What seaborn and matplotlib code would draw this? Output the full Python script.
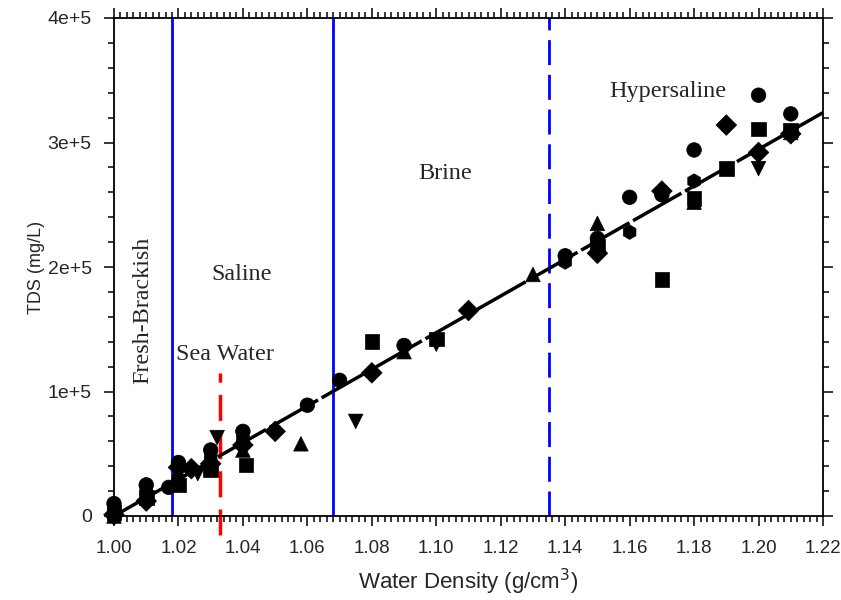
import numpy as np
import pandas as pd
import matplotlib
matplotlib.use("Agg")
import matplotlib.pyplot as plt
from matplotlib.ticker import MultipleLocator, FixedLocator, FixedFormatter
import seaborn as sns

# ---- data ----
circle_x = [1.000, 1.010, 1.017, 1.020, 1.030, 1.040, 1.060, 1.070, 1.090, 1.140,
            1.150, 1.160, 1.170, 1.180, 1.200, 1.210]
circle_y = [10000, 25000, 23000, 43000, 53000, 68000, 89000, 109000, 137000, 209000,
            223000, 256000, 258000, 294000, 338000, 323000]
hex_x = [1.000, 1.010, 1.020, 1.030, 1.040, 1.140, 1.160, 1.180]
hex_y = [6000, 20000, 30000, 48000, 62000, 204000, 228000, 269000]
square_x = [1.000, 1.010, 1.020, 1.030, 1.041, 1.080, 1.100, 1.150, 1.170, 1.180,
            1.190, 1.200, 1.210]
square_y = [3000, 15000, 25000, 37000, 41000, 140000, 142000, 217000, 190000, 255000,
            279000, 311000, 310000]
diamond_x = [1.000, 1.010, 1.020, 1.024, 1.030, 1.040, 1.050, 1.080, 1.110, 1.150,
             1.170, 1.190, 1.200, 1.210]
diamond_y = [1000, 12000, 39000, 38000, 42000, 57000, 68000, 115000, 165000, 211000,
             261000, 314000, 292000, 307000]
tridown_x = [1.026, 1.032, 1.075, 1.100, 1.200]
tridown_y = [34000, 63000, 76000, 138000, 279000]
triup_x = [1.000, 1.040, 1.058, 1.090, 1.130, 1.150, 1.180, 1.210]
triup_y = [0, 53000, 58000, 132000, 194000, 235000, 252000, 308000]

fit_x = [1.00, 1.22]
fit_y = [0, 324000]

class_limits = [1.018, 1.068]       # solid blue
brine_limit = [1.135]               # dashed blue
seawater_x = [1.033]
seawater_y = [-15000, 115000]

xticks = [1.00, 1.02, 1.04, 1.06, 1.08, 1.10, 1.12, 1.14, 1.16, 1.18, 1.20, 1.22]
xticklabels = ["1.00", "1.02", "1.04", "1.06", "1.08", "1.10", "1.12", "1.14",
               "1.16", "1.18", "1.20", "1.22"]
yticks = [0, 100000, 200000, 300000, 400000]
yticklabels = ["0", "1e+5", "2e+5", "3e+5", "4e+5"]

labels = ["Fresh-Brackish", "Sea Water", "Saline", "Brine", "Hypersaline"]
label_x = [1.009, 1.0345, 1.0397, 1.1027, 1.172]
label_y = [165000, 130000, 194000, 275000, 341000]
label_rot = [90, 0, 0, 0, 0]

# ---- build table ----
groups = [("circle", "o", circle_x, circle_y), ("hex", "h", hex_x, hex_y),
          ("square", "s", square_x, square_y), ("diamond", "D", diamond_x, diamond_y),
          ("tridown", "v", tridown_x, tridown_y), ("triup", "^", triup_x, triup_y)]
rows = []
for name, m, xs, ys in groups:
    for x, y in zip(xs, ys):
        rows.append({"density": x, "tds": y, "kind": name})
df = pd.DataFrame(rows)
markers = {name: m for name, m, _, _ in groups}

sns.set_style("ticks")
plt.rcParams["font.family"] = ["Liberation Sans", "DejaVu Sans"]

fig = plt.figure(figsize=(8.41, 6.00), dpi=100)
ax = fig.add_axes([114 / 841, 1 - 516 / 600, (823 - 114) / 841, (516 - 18) / 600])

# vertical class boundaries
for xv in class_limits:
    ax.axvline(xv, color="#0000ff", lw=2, zorder=2)
for xv in brine_limit:
    ax.axvline(xv, color="#0000ff", lw=2, linestyle=(0, (9, 3.5)), zorder=2)
sw = pd.DataFrame({"x": seawater_x * len(seawater_y), "y": seawater_y})
ax.plot(sw["x"], sw["y"], color="#ff0000", lw=2.5, linestyle=(0, (7.5, 3.5)),
        clip_on=False, zorder=2)

# regression line
sns.lineplot(x=fit_x, y=fit_y, ax=ax, color="black", lw=2.5,
             linestyle=(0, (16, 1.2)), zorder=3)

# data points
sns.scatterplot(data=df, x="density", y="tds", style="kind", markers=markers,
                color="black", edgecolor="black", s=110, linewidth=0.5,
                legend=False, ax=ax, clip_on=False, zorder=4)

# text annotations
for t, x, y, r in zip(labels, label_x, label_y, label_rot):
    ax.text(x, y, t, rotation=r, ha="center", va="center",
            fontsize=17.4, family=["Liberation Serif", "DejaVu Serif"])

ax.set_xlim(1.00, 1.22)
ax.set_ylim(0, 400000)
ax.xaxis.set_major_locator(FixedLocator(xticks))
ax.xaxis.set_major_formatter(FixedFormatter(xticklabels))
ax.xaxis.set_minor_locator(MultipleLocator(0.002))
ax.yaxis.set_major_locator(FixedLocator(yticks))
ax.yaxis.set_major_formatter(FixedFormatter(yticklabels))
ax.yaxis.set_minor_locator(MultipleLocator(20000))

for side in ["top", "right", "bottom", "left"]:
    ax.spines[side].set_visible(True)
    ax.spines[side].set_linewidth(1.3)
    ax.spines[side].set_color("black")
ax.tick_params(which="both", direction="out", top=True, right=True,
               bottom=True, left=True, color="black", width=1.1)
ax.tick_params(which="major", length=7)
ax.tick_params(which="minor", length=4)
ax.tick_params(axis="x", which="major", labelsize=13.5, pad=10)
ax.tick_params(axis="y", which="major", labelsize=14, pad=9)

ax.set_xlabel("Water Density (g/cm$^3$)", fontsize=16, labelpad=7)
ax.set_ylabel("TDS (mg/L)", fontsize=13, labelpad=2)

fig.savefig("out.png", dpi=100)
